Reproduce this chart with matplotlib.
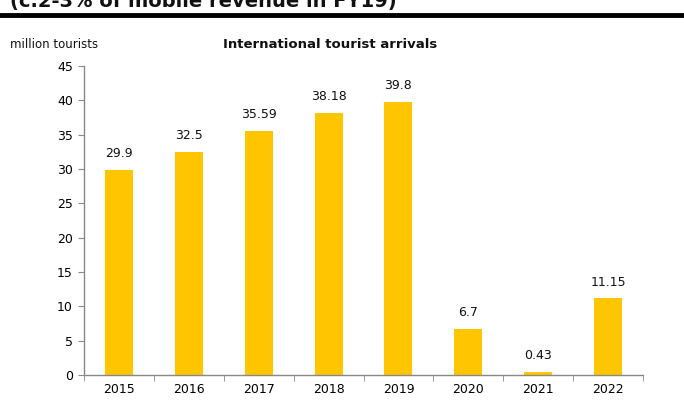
import matplotlib.pyplot as plt
import numpy as np

# international tourist arrivals, million
years = ["2015", "2016", "2017", "2018", "2019", "2020", "2021", "2022"]
arrivals = [29.9, 32.5, 35.59, 38.18, 39.8, 6.7, 0.43, 11.15]
value_labels = ["29.9", "32.5", "35.59", "38.18", "39.8", "6.7", "0.43", "11.15"]
y_ticks = [0, 5, 10, 15, 20, 25, 30, 35, 40, 45]

plt.rcParams['font.family'] = ['DejaVu Sans']

fig = plt.figure(figsize=(6.84, 4.15), dpi=100)
ax = fig.add_axes([84 / 684, 1 - 375 / 415, (643 - 84) / 684, (375 - 66) / 415])

x = np.arange(len(years))
ax.bar(x, arrivals, width=0.4, color="#FFC600")

for xi, v, lab in zip(x, arrivals, value_labels):
    ax.annotate(lab, (xi, v), xytext=(0, 7), textcoords="offset points",
                ha="center", va="bottom", fontsize=9, color="#111111")

ax.set_xlim(-0.5, len(years) - 0.5)
ax.set_ylim(0, 45)
ax.set_yticks(y_ticks)
ax.set_xticks(x)
ax.set_xticklabels(years)
ax.set_xticks(np.arange(-0.5, len(years)), minor=True)
ax.tick_params(axis="x", which="major", length=0, pad=6, labelsize=9)
ax.tick_params(axis="x", which="minor", length=4, color="#888888", direction="out")
ax.tick_params(axis="y", length=4, color="#888888", direction="out", labelsize=9, pad=4)

for side in ["top", "right"]:
    ax.spines[side].set_visible(False)
for side in ["left", "bottom"]:
    ax.spines[side].set_color("#888888")
    ax.spines[side].set_linewidth(1.0)

# headline and rule above the chart
fig.text(10 / 684, 1 - 1 / 415, "(c.2-3% of mobile revenue in FY19)", fontsize=14,
         fontweight="bold", ha="left", va="center", color="#111111")
fig.add_artist(plt.Line2D([0, 1], [1 - 15 / 415, 1 - 15 / 415], color="black",
                          linewidth=3.5, transform=fig.transFigure))

fig.text(10 / 684, 1 - 44 / 415, "million tourists", fontsize=8.5, ha="left",
         va="center", color="#111111")
fig.text(330 / 684, 1 - 44 / 415, "International tourist arrivals", fontsize=9.5,
         fontweight="bold", ha="center", va="center", color="#111111")

fig.savefig("out.png", dpi=100)
